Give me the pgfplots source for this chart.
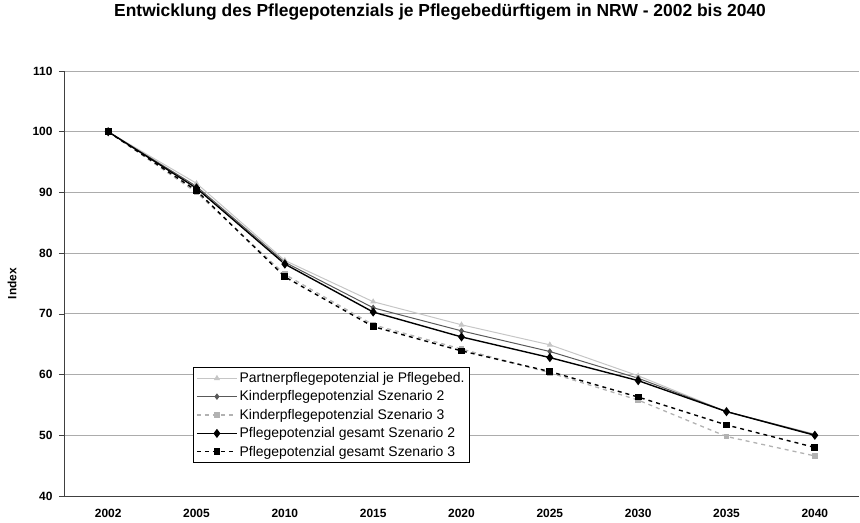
\documentclass[border=0pt]{standalone}
\usepackage{pgfplots}
\pgfplotsset{compat=1.18}
\usepackage{fontspec}
\setmainfont{Liberation Sans}
\begin{document}
\begin{tikzpicture}
\begin{axis}[
  scale only axis, width=795bp, height=425bp,
  xmin=-0.5, xmax=8.5, ymin=40, ymax=110,
  axis x line*=bottom, axis y line*=left,
  axis line style={gray!50!black, line width=1pt},
  xtick={0,...,8},
  xticklabels={2002,2005,2010,2015,2020,2025,2030,2035,2040},
  major x tick style={draw=none},
  extra x ticks={0.5,1.5,2.5,3.5,4.5,5.5,6.5,7.5},
  extra x tick labels={},
  extra x tick style={major tick length=6bp, tick align=center, grid=none, tick style={draw=gray!50!black, line width=0.7pt}},
  ytick={40,50,...,110},
  ymajorgrids,
  grid style={gray!65, line width=1pt},
  y tick style={draw=gray!50!black, line width=0.7pt},
  major tick length=5bp, tick align=outside,
  /pgf/number format/assume math mode=true,
  ticklabel style={font=\bfseries\fontsize{12}{14}\selectfont},
  yticklabel style={xshift=-3bp},
  xticklabel style={yshift=-5bp},
  ylabel={Index},
  ylabel style={at={(rel axis cs:-0.0654,0.5)}, anchor=center, font=\bfseries\fontsize{12}{14}\selectfont},
  title={Entwicklung des Pflegepotenzials je Pflegebedürftigem in NRW - 2002 bis 2040},
  title style={at={(rel axis cs:0.473,1.124)}, anchor=center, font=\bfseries\fontsize{17.5}{19}\selectfont},
  legend style={at={(0.162,0.3035)}, anchor=north west, draw=black, line width=0.9pt,
    font=\fontsize{14}{16.5}\selectfont, row sep=2.8bp, inner xsep=3bp, inner ysep=3bp},
  legend cell align=left,
  legend image code/.code={\draw[mark repeat=2,mark phase=2] plot coordinates {(0bp,0bp) (20bp,0bp) (40bp,0bp)};},
  clip=false,
]
\addplot[gray!45, line width=1pt, mark=triangle*, mark size=2.5pt, mark options={solid, fill=gray!45}]
  coordinates {(0,100) (1,91.5) (2,78.8) (3,72.0) (4,68.2) (5,64.9) (6,59.8) (7,53.9) (8,50.2)};
\addlegendentry{Partnerpflegepotenzial je Pflegebed.}
\addplot[gray!70!black, line width=1pt, mark=diamond*, mark size=2.5pt, mark options={solid}]
  coordinates {(0,100) (1,91.0) (2,78.5) (3,71.0) (4,67.2) (5,63.8) (6,59.4) (7,53.9) (8,50.1)};
\addlegendentry{Kinderpflegepotenzial Szenario 2}
\addplot[gray!60, line width=1.3pt, dash pattern=on 4bp off 4bp, mark=square*, mark size=2.3pt, mark options={solid}]
  coordinates {(0,100) (1,90.0) (2,76.5) (3,68.2) (4,64.2) (5,60.3) (6,55.8) (7,49.8) (8,46.6)};
\addlegendentry{Kinderpflegepotenzial Szenario 3}
\addplot[black, line width=1.4pt, mark=diamond*, mark size=3.5pt, mark options={solid}]
  coordinates {(0,100) (1,90.7) (2,78.2) (3,70.3) (4,66.2) (5,62.8) (6,59.0) (7,53.9) (8,50.0)};
\addlegendentry{Pflegepotenzial gesamt Szenario 2}
\addplot[black, line width=1.4pt, dash pattern=on 4bp off 4bp, mark=square*, mark size=2.7pt, mark options={solid}]
  coordinates {(0,100) (1,90.3) (2,76.1) (3,67.9) (4,63.9) (5,60.5) (6,56.3) (7,51.7) (8,48.0)};
\addlegendentry{Pflegepotenzial gesamt Szenario 3}
\end{axis}
\pgfresetboundingbox
\path[use as bounding box] (current axis.south west) ++(-64bp,-27bp) rectangle ++(860bp,523bp);
\end{tikzpicture}
\end{document}
